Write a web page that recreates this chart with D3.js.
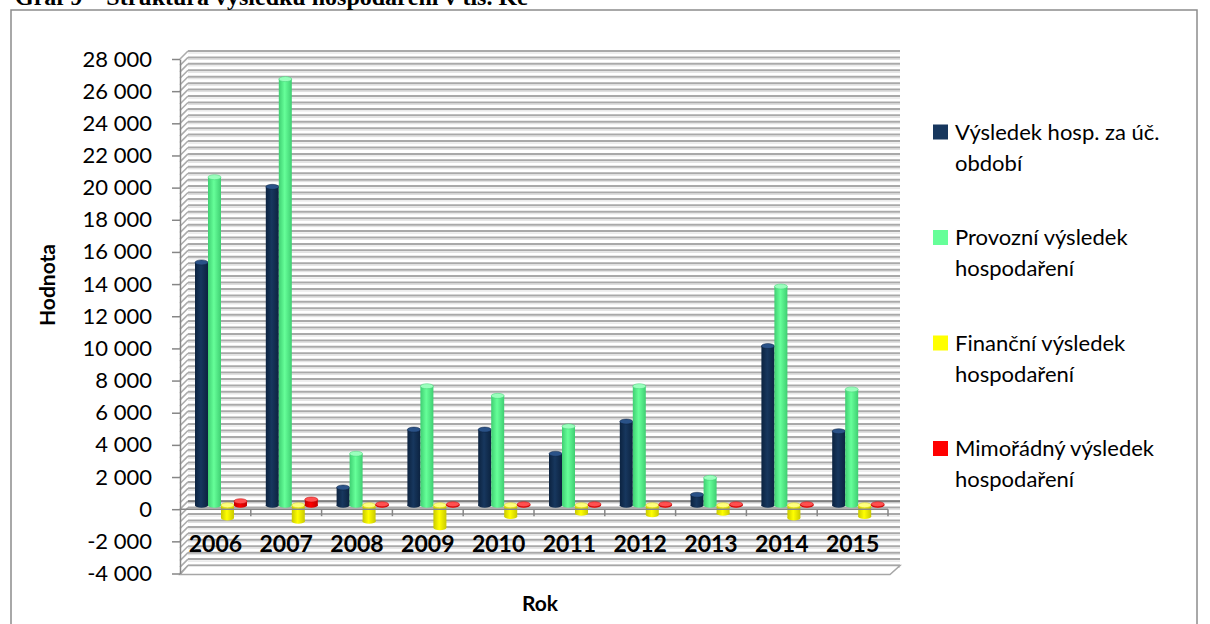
<!DOCTYPE html>
<html lang="cs">
<head>
<meta charset="UTF-8">
<title>Graf 9 – Struktura výsledku hospodaření</title>
<script src="https://cdn.jsdelivr.net/npm/d3@7/dist/d3.min.js"></script>
<style>
  body { margin: 0; background: #fff; }
  svg { display: block; }
  text { font-family: Lato, "Noto Sans", sans-serif; fill: #000; }
  .axis path, .axis line { stroke: #868686; stroke-width: 1.5; }
</style>
</head>
<body>
<script>
// data (tis. Kč)
const years = ["2006", "2007", "2008", "2009", "2010", "2011", "2012", "2013", "2014", "2015"];
const seriesNames = ["Výsledek hosp. za úč. období", "Provozní výsledek hospodaření",
                     "Finanční výsledek hospodaření", "Mimořádný výsledek hospodaření"];
const legendLines = [["Výsledek hosp. za úč.", "období"], ["Provozní výsledek", "hospodaření"],
                     ["Finanční výsledek", "hospodaření"], ["Mimořádný výsledek", "hospodaření"]];
const vysledek  = [15100, 19800, 1100, 4700, 4700, 3200, 5200, 650, 9900, 4600];
const provozni  = [20400, 26500, 3200, 7400, 6800, 4900, 7400, 1700, 13600, 7200];
const financni  = [-800, -1000, -1000, -1400, -700, -500, -600, -500, -800, -700];
const mimoradny = [250, 350, 60, 60, 60, 60, 60, 60, 60, 60];
const yTickValues = [-4000, -2000, 0, 2000, 4000, 6000, 8000, 10000, 12000, 14000,
                     16000, 18000, 20000, 22000, 24000, 26000, 28000];

const colors = ["#17375E", "#66FF99", "#FFFF00", "#FF0000"];
const edgeColors = ["#0c2340", "#3fcf72", "#c9c900", "#c00000"];
const capColors = ["#2a5288", "#9affbd", "#ffff80", "#ff5050"];

const W = 1210, H = 624;
const depth = 8; // 3D offset of the back wall

const svg = d3.select("body").append("svg").attr("width", W).attr("height", H);

// outer frame + title (cut at top)
svg.append("rect").attr("x", 11).attr("y", 10).attr("width", 1186).attr("height", 640)
   .attr("fill", "none").attr("stroke", "#8c8c8c").attr("stroke-width", 1.5);
svg.append("text").attr("x", 15).attr("y", 5)
   .style("font-family", "'Liberation Serif', serif").style("font-weight", "bold").style("font-size", "24px")
   .text("Graf 9 – Struktura výsledku hospodaření v tis. Kč");

// scales
const y = d3.scaleLinear().domain([-4000, 28000]).range([573.5, 59]);
const x0 = d3.scaleBand().domain(years).range([180, 888]);
const x1 = d3.scaleBand().domain(d3.range(4)).range([0, 52]);
const yMid = v => y(v) - depth / 2;

// gradients for cylinders
const defs = svg.append("defs");
colors.forEach((c, i) => {
  const g = defs.append("linearGradient").attr("id", "cyl" + i).attr("x1", 0).attr("x2", 1);
  g.append("stop").attr("offset", "0%").attr("stop-color", edgeColors[i]);
  g.append("stop").attr("offset", "45%").attr("stop-color", c);
  g.append("stop").attr("offset", "100%").attr("stop-color", edgeColors[i]);
});

// walls: minor gridlines every 400 on back wall and side wall (bevelled look)
const minor = d3.range(-4000, 28001, 400);
const grid = svg.append("g");
grid.selectAll("line.shade").data(minor).join("line")
    .attr("x1", 180 + depth).attr("x2", 900)
    .attr("y1", d => y(d) - depth + 2).attr("y2", d => y(d) - depth + 2)
    .attr("stroke", "#dedede").attr("stroke-width", 1);
grid.selectAll("line.back").data(minor).join("line")
    .attr("x1", 180 + depth).attr("x2", 900)
    .attr("y1", d => y(d) - depth).attr("y2", d => y(d) - depth)
    .attr("stroke", "#a9a9a9").attr("stroke-width", 2);
grid.selectAll("line.side").data(minor).join("line")
    .attr("x1", 180).attr("x2", 180 + depth)
    .attr("y1", d => y(d)).attr("y2", d => y(d) - depth)
    .attr("stroke", "#acacac").attr("stroke-width", 1.6);

// floor
svg.append("path")
   .attr("d", `M180,${y(-4000) + 1}L890,${y(-4000) + 1}L900,${y(-4000) - depth}L${180 + depth},${y(-4000) - depth}Z`)
   .attr("fill", "#fff").attr("stroke", "#a6a6a6").attr("stroke-width", 1.5);

// zero plane line on back wall
svg.append("line").attr("x1", 180 + depth).attr("x2", 900)
   .attr("y1", y(0) - depth).attr("y2", y(0) - depth)
   .attr("stroke", "#808080").attr("stroke-width", 2);

// bars as cylinders
const rows = years.map((yr, j) => ({year: yr, vals: [vysledek[j], provozni[j], financni[j], mimoradny[j]]}));
const ry = 2.5;
const groups = svg.append("g").selectAll("g").data(rows).join("g")
    .attr("transform", d => `translate(${x0(d.year) + 15},0)`);
groups.each(function(d) {
  const g = d3.select(this);
  d.vals.forEach((v, i) => {
    const bx = x1(i), bw = x1.bandwidth();
    const yTop = Math.min(yMid(v), yMid(0)), yBot = Math.max(yMid(v), yMid(0));
    g.append("rect").attr("x", bx).attr("y", yTop).attr("width", bw).attr("height", yBot - yTop)
     .attr("fill", `url(#cyl${i})`);
    g.append("ellipse").attr("cx", bx + bw / 2).attr("cy", yBot).attr("rx", bw / 2).attr("ry", ry)
     .attr("fill", `url(#cyl${i})`);
    g.append("ellipse").attr("cx", bx + bw / 2).attr("cy", yTop).attr("rx", bw / 2).attr("ry", ry)
     .attr("fill", capColors[i]).attr("stroke", edgeColors[i]).attr("stroke-width", 0.5);
  });
});

// y axis
const fmt = d3.formatLocale({decimal: ",", thousands: "\u00a0", grouping: [3], currency: ["", ""], minus: "-"}).format(",d");
const yAxis = svg.append("g").attr("class", "axis").attr("transform", "translate(180,0)")
    .call(d3.axisLeft(y).tickValues(yTickValues).tickFormat(fmt).tickSize(8).tickSizeOuter(0).tickPadding(20));
yAxis.selectAll("text").style("font-size", "22px").style("font-family", "Lato, sans-serif");

// x axis at zero with ticks on category boundaries
const xg = svg.append("g").attr("class", "axis");
xg.append("line").attr("x1", 180).attr("x2", 888).attr("y1", y(0)).attr("y2", y(0));
xg.selectAll("line.tk").data(years.slice(1).concat(["end"])).join("line")
  .attr("x1", d => d === "end" ? 888 : x0(d)).attr("x2", d => d === "end" ? 888 : x0(d))
  .attr("y1", y(0)).attr("y2", y(0) + 7);
xg.selectAll("text").data(years).join("text")
  .attr("x", d => x0(d) + x0.bandwidth() / 2).attr("y", 552)
  .attr("text-anchor", "middle").style("font-size", "23px").style("font-weight", "bold")
  .text(d => d);

// axis titles
svg.append("text").attr("transform", "translate(55,285) rotate(-90)")
   .attr("text-anchor", "middle").style("font-size", "21px").style("font-weight", "bold").text("Hodnota");
svg.append("text").attr("x", 540).attr("y", 611)
   .attr("text-anchor", "middle").style("font-size", "21px").style("font-weight", "bold").text("Rok");

// legend
const leg = svg.append("g").selectAll("g").data(legendLines).join("g")
    .attr("transform", (d, i) => `translate(933,${132 + i * 105.5})`);
leg.append("rect").attr("x", 0).attr("y", -7.5).attr("width", 15).attr("height", 15)
   .attr("fill", (d, i) => colors[i]);
leg.each(function(d) {
  d3.select(this).selectAll("text").data(d).join("text")
    .attr("x", 22).attr("y", (t, k) => k * 31).attr("dy", "0.35em")
    .style("font-size", "22px").text(t => t);
});
</script>
</body>
</html>
